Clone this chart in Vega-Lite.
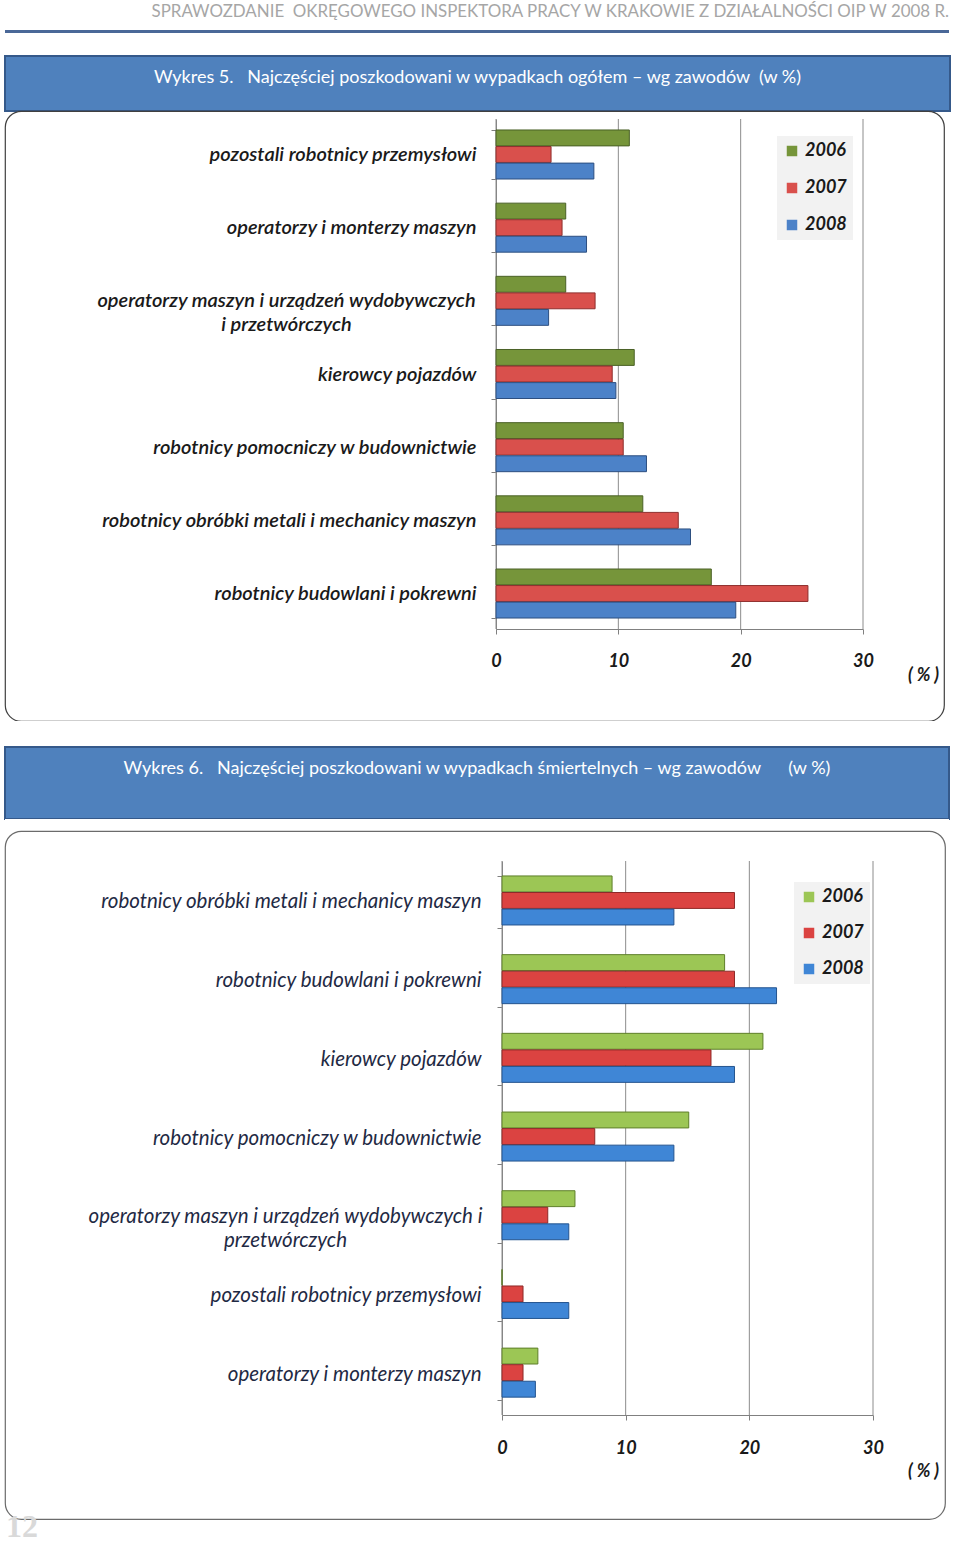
{
  "$schema": "https://vega.github.io/schema/vega-lite/v6.json",
  "background": "white",
  "padding": {"left": 4, "top": 3, "right": 0, "bottom": 0},
  "spacing": 0,
  "bounds": "flush",
  "config": {
    "view": {"stroke": null},
    "concat": {"spacing": 0}
  },
  "resolve": {
    "scale": {"color": "independent", "stroke": "independent", "x": "independent", "y": "independent"},
    "legend": {"color": "independent", "stroke": "independent"}
  },
  "datasets": {
    "ogolem": [
      {"zawod": "pozostali robotnicy przemysłowi", "rok": "2006", "procent": 10.9},
      {"zawod": "pozostali robotnicy przemysłowi", "rok": "2007", "procent": 4.5},
      {"zawod": "pozostali robotnicy przemysłowi", "rok": "2008", "procent": 8.0},
      {"zawod": "operatorzy i monterzy maszyn", "rok": "2006", "procent": 5.7},
      {"zawod": "operatorzy i monterzy maszyn", "rok": "2007", "procent": 5.4},
      {"zawod": "operatorzy i monterzy maszyn", "rok": "2008", "procent": 7.4},
      {"zawod": "operatorzy maszyn i urządzeń wydobywczych i przetwórczych", "rok": "2006", "procent": 5.7},
      {"zawod": "operatorzy maszyn i urządzeń wydobywczych i przetwórczych", "rok": "2007", "procent": 8.1},
      {"zawod": "operatorzy maszyn i urządzeń wydobywczych i przetwórczych", "rok": "2008", "procent": 4.3},
      {"zawod": "kierowcy pojazdów", "rok": "2006", "procent": 11.3},
      {"zawod": "kierowcy pojazdów", "rok": "2007", "procent": 9.5},
      {"zawod": "kierowcy pojazdów", "rok": "2008", "procent": 9.8},
      {"zawod": "robotnicy pomocniczy w budownictwie", "rok": "2006", "procent": 10.4},
      {"zawod": "robotnicy pomocniczy w budownictwie", "rok": "2007", "procent": 10.4},
      {"zawod": "robotnicy pomocniczy w budownictwie", "rok": "2008", "procent": 12.3},
      {"zawod": "robotnicy obróbki metali i mechanicy maszyn", "rok": "2006", "procent": 12.0},
      {"zawod": "robotnicy obróbki metali i mechanicy maszyn", "rok": "2007", "procent": 14.9},
      {"zawod": "robotnicy obróbki metali i mechanicy maszyn", "rok": "2008", "procent": 15.9},
      {"zawod": "robotnicy budowlani i pokrewni", "rok": "2006", "procent": 17.6},
      {"zawod": "robotnicy budowlani i pokrewni", "rok": "2007", "procent": 25.5},
      {"zawod": "robotnicy budowlani i pokrewni", "rok": "2008", "procent": 19.6}
    ],
    "smiertelne": [
      {"zawod": "robotnicy obróbki metali i mechanicy maszyn", "rok": "2006", "procent": 8.9},
      {"zawod": "robotnicy obróbki metali i mechanicy maszyn", "rok": "2007", "procent": 18.8},
      {"zawod": "robotnicy obróbki metali i mechanicy maszyn", "rok": "2008", "procent": 13.9},
      {"zawod": "robotnicy budowlani i pokrewni", "rok": "2006", "procent": 18.0},
      {"zawod": "robotnicy budowlani i pokrewni", "rok": "2007", "procent": 18.8},
      {"zawod": "robotnicy budowlani i pokrewni", "rok": "2008", "procent": 22.2},
      {"zawod": "kierowcy pojazdów", "rok": "2006", "procent": 21.1},
      {"zawod": "kierowcy pojazdów", "rok": "2007", "procent": 16.9},
      {"zawod": "kierowcy pojazdów", "rok": "2008", "procent": 18.8},
      {"zawod": "robotnicy pomocniczy w budownictwie", "rok": "2006", "procent": 15.1},
      {"zawod": "robotnicy pomocniczy w budownictwie", "rok": "2007", "procent": 7.5},
      {"zawod": "robotnicy pomocniczy w budownictwie", "rok": "2008", "procent": 13.9},
      {"zawod": "operatorzy maszyn i urządzeń wydobywczych i przetwórczych", "rok": "2006", "procent": 5.9},
      {"zawod": "operatorzy maszyn i urządzeń wydobywczych i przetwórczych", "rok": "2007", "procent": 3.7},
      {"zawod": "operatorzy maszyn i urządzeń wydobywczych i przetwórczych", "rok": "2008", "procent": 5.4},
      {"zawod": "pozostali robotnicy przemysłowi", "rok": "2006", "procent": 0},
      {"zawod": "pozostali robotnicy przemysłowi", "rok": "2007", "procent": 1.7},
      {"zawod": "pozostali robotnicy przemysłowi", "rok": "2008", "procent": 5.4},
      {"zawod": "operatorzy i monterzy maszyn", "rok": "2006", "procent": 2.9},
      {"zawod": "operatorzy i monterzy maszyn", "rok": "2007", "procent": 1.7},
      {"zawod": "operatorzy i monterzy maszyn", "rok": "2008", "procent": 2.7}
    ],
    "siatka": [{"v": 0}, {"v": 10}, {"v": 20}, {"v": 30}]
  },
  "vconcat": [
    {
      "width": 944,
      "height": 3,
      "view": {"fill": "#4A6898", "stroke": null},
      "title": {
        "text": "SPRAWOZDANIE\u00a0 OKRĘGOWEGO INSPEKTORA PRACY W KRAKOWIE Z DZIAŁALNOŚCI OIP W 2008 R.",
        "anchor": "end",
        "orient": "top",
        "offset": 9,
        "font": "Lato",
        "fontSize": 16.9,
        "fontWeight": "normal",
        "color": "#A6A6A6"
      },
      "data": {"values": []},
      "mark": "point",
      "encoding": {}
    },
    {
      "width": 944,
      "height": 23,
      "view": {"fill": "white", "stroke": null},
      "data": {"values": []},
      "mark": "point",
      "encoding": {}
    },
    {
      "width": 945,
      "height": 55,
      "view": {"fill": "#4F81BD", "stroke": "#35598A", "strokeWidth": 2},
      "data": {"values": [{"t": "Wykres 5.\u00a0\u00a0\u00a0Najczęściej poszkodowani w wypadkach ogółem – wg zawodów\u00a0\u00a0(w %)"}]},
      "mark": {"type": "text", "font": "Lato", "fontSize": 18, "color": "white", "dy": -6},
      "encoding": {"text": {"field": "t"}}
    },
    {
      "width": 939,
      "height": 610,
      "view": {"fill": "white", "stroke": "#404040", "strokeWidth": 1.2, "cornerRadius": 16},
      "resolve": {"scale": {"y": "independent"}},
      "layer": [
        {
          "data": {"name": "siatka"},
          "mark": {"type": "rule", "color": "#8c8c8c", "strokeWidth": 1},
          "encoding": {
            "x": {
              "field": "v",
              "type": "quantitative",
              "scale": {"domain": [0, 30], "range": [491, 858], "nice": false},
              "axis": {
                "title": "( % )",
                "titleX": 918,
                "titleY": 46,
                "titleAlign": "center",
                "titleBaseline": "middle",
                "titleFont": "Lato",
                "titleFontSize": 18,
                "titleFontStyle": "italic",
                "titleFontWeight": "bold",
                "titleColor": "#1a1a1a",
                "offset": -92,
                "values": [0, 10, 20, 30],
                "labelFlush": false,
                "labelFont": "Lato",
                "labelFontSize": 18,
                "labelFontStyle": "italic",
                "labelFontWeight": "bold",
                "labelColor": "#1a1a1a",
                "labelPadding": 18,
                "domainColor": "#808080",
                "tickColor": "#808080",
                "tickSize": 5,
                "grid": false
              }
            },
            "y": {"datum": 0, "type": "quantitative", "scale": {"domain": [0, 1], "range": [518, 8]}, "axis": null},
            "y2": {"datum": 1}
          }
        },
        {
          "data": {"name": "ogolem"},
          "mark": {"type": "bar", "strokeWidth": 1},
          "encoding": {
            "y": {
              "field": "zawod",
              "type": "nominal",
              "sort": null,
              "scale": {"range": [8, 518], "paddingInner": 0.33, "paddingOuter": 0.15},
              "axis": {
                "title": null,
                "orient": "left",
                "offset": -491,
                "labelFont": "Lato",
                "labelFontSize": 20,
                "labelFontStyle": "italic",
                "labelFontWeight": 600,
                "labelColor": "#1a1a1a",
                "labelAlign": {"condition": {"test": "datum.value == 'operatorzy maszyn i urządzeń wydobywczych i przetwórczych'", "value": "center"}, "value": "right"},
                "labelPadding": {"condition": {"test": "datum.value == 'operatorzy maszyn i urządzeń wydobywczych i przetwórczych'", "value": 205}, "value": 15},
                "labelLimit": 480,
                "labelLineHeight": 24,
                "labelExpr": "datum.label == 'operatorzy maszyn i urządzeń wydobywczych i przetwórczych' ? ['operatorzy maszyn i urządzeń wydobywczych', 'i przetwórczych'] : datum.label",
                "domainColor": "#808080",
                "tickColor": "#808080",
                "tickSize": 5,
                "tickBand": "extent",
                "grid": false
              }
            },
            "yOffset": {
              "field": "rok",
              "type": "nominal",
              "sort": ["2006", "2007", "2008"],
              "scale": {"paddingInner": 0.04}
            },
            "x": {"field": "procent", "type": "quantitative"},
            "color": {
              "field": "rok",
              "type": "nominal",
              "scale": {"domain": ["2006", "2007", "2008"], "range": ["#76953A", "#D9504C", "#4C82C8"]},
              "legend": {
                "title": null,
                "orient": "none",
                "legendX": 772,
                "legendY": 25,
                "fillColor": "#F2F2F2",
                "padding": 6,
                "rowPadding": 19,
                "symbolType": "square",
                "symbolSize": 110,
                "symbolStrokeWidth": 0,
                "labelFont": "Lato",
                "labelFontSize": 18,
                "labelFontStyle": "italic",
                "labelFontWeight": "bold",
                "labelColor": "#1a1a1a",
                "labelOffset": 4
              }
            },
            "stroke": {
              "field": "rok",
              "type": "nominal",
              "scale": {"domain": ["2006", "2007", "2008"], "range": ["#4A6126", "#8E2F2D", "#2D4F80"]},
              "legend": null
            }
          }
        }
      ]
    },
    {
      "width": 944,
      "height": 26,
      "view": {"fill": "white", "stroke": null},
      "data": {"values": []},
      "mark": "point",
      "encoding": {}
    },
    {
      "width": 944,
      "height": 72,
      "view": {"fill": "#4F81BD", "stroke": "#35598A", "strokeWidth": 2},
      "data": {"values": [{"t": "Wykres 6.\u00a0\u00a0\u00a0Najczęściej poszkodowani w wypadkach śmiertelnych – wg zawodów\u00a0\u00a0\u00a0\u00a0\u00a0\u00a0(w %)"}]},
      "mark": {"type": "text", "font": "Lato", "fontSize": 18, "color": "white", "dy": -14},
      "encoding": {"text": {"field": "t"}}
    },
    {
      "width": 944,
      "height": 12,
      "view": {"fill": "white", "stroke": null},
      "data": {"values": []},
      "mark": "point",
      "encoding": {}
    },
    {
      "width": 940,
      "height": 688,
      "view": {"fill": "white", "stroke": "#6b6b6b", "strokeWidth": 1.2, "cornerRadius": 16},
      "title": {
        "text": "12",
        "orient": "bottom",
        "anchor": "start",
        "offset": -7,
        "dx": 1,
        "font": "Liberation Serif",
        "fontSize": 32,
        "fontWeight": "bold",
        "color": "#D9D9D9"
      },
      "resolve": {"scale": {"y": "independent"}},
      "layer": [
        {
          "data": {"name": "siatka"},
          "mark": {"type": "rule", "color": "#8c8c8c", "strokeWidth": 1},
          "encoding": {
            "x": {
              "field": "v",
              "type": "quantitative",
              "scale": {"domain": [0, 30], "range": [497, 868], "nice": false},
              "axis": {
                "title": "( % )",
                "titleX": 918,
                "titleY": 56,
                "titleAlign": "center",
                "titleBaseline": "middle",
                "titleFont": "Lato",
                "titleFontSize": 18,
                "titleFontStyle": "italic",
                "titleFontWeight": "bold",
                "titleColor": "#1a1a1a",
                "offset": -104,
                "values": [0, 10, 20, 30],
                "labelFlush": false,
                "labelFont": "Lato",
                "labelFontSize": 18,
                "labelFontStyle": "italic",
                "labelFontWeight": "bold",
                "labelColor": "#1a1a1a",
                "labelPadding": 19,
                "domainColor": "#808080",
                "tickColor": "#808080",
                "tickSize": 5,
                "grid": false
              }
            },
            "y": {"datum": 0, "type": "quantitative", "scale": {"domain": [0, 1], "range": [584, 30]}, "axis": null},
            "y2": {"datum": 1}
          }
        },
        {
          "data": {"name": "smiertelne"},
          "mark": {"type": "bar", "strokeWidth": 1},
          "encoding": {
            "y": {
              "field": "zawod",
              "type": "nominal",
              "sort": null,
              "scale": {"range": [30, 584], "paddingInner": 0.34, "paddingOuter": 0.19},
              "axis": {
                "title": null,
                "orient": "left",
                "offset": -497,
                "labelFont": "Lato",
                "labelFontSize": 20.5,
                "labelFontStyle": "italic",
                "labelFontWeight": "normal",
                "labelColor": "#1F2A44",
                "labelAlign": {"condition": {"test": "datum.value == 'operatorzy maszyn i urządzeń wydobywczych i przetwórczych'", "value": "center"}, "value": "right"},
                "labelPadding": {"condition": {"test": "datum.value == 'operatorzy maszyn i urządzeń wydobywczych i przetwórczych'", "value": 212}, "value": 16},
                "labelLimit": 480,
                "labelLineHeight": 24,
                "labelExpr": "datum.label == 'operatorzy maszyn i urządzeń wydobywczych i przetwórczych' ? ['operatorzy maszyn i urządzeń wydobywczych i', 'przetwórczych'] : datum.label",
                "domainColor": "#808080",
                "tickColor": "#808080",
                "tickSize": 5,
                "tickBand": "extent",
                "grid": false
              }
            },
            "yOffset": {
              "field": "rok",
              "type": "nominal",
              "sort": ["2006", "2007", "2008"],
              "scale": {"paddingInner": 0.04}
            },
            "x": {"field": "procent", "type": "quantitative"},
            "color": {
              "field": "rok",
              "type": "nominal",
              "scale": {"domain": ["2006", "2007", "2008"], "range": ["#9CC655", "#DB4341", "#3F86D6"]},
              "legend": {
                "title": null,
                "orient": "none",
                "legendX": 789,
                "legendY": 51,
                "fillColor": "#F2F2F2",
                "padding": 6,
                "rowPadding": 18,
                "symbolType": "square",
                "symbolSize": 110,
                "symbolStrokeWidth": 0,
                "labelFont": "Lato",
                "labelFontSize": 18,
                "labelFontStyle": "italic",
                "labelFontWeight": "bold",
                "labelColor": "#1a1a1a",
                "labelOffset": 4
              }
            },
            "stroke": {
              "field": "rok",
              "type": "nominal",
              "scale": {"domain": ["2006", "2007", "2008"], "range": ["#5E7F2A", "#8E2A28", "#24548F"]},
              "legend": null
            }
          }
        }
      ]
    }
  ]
}
